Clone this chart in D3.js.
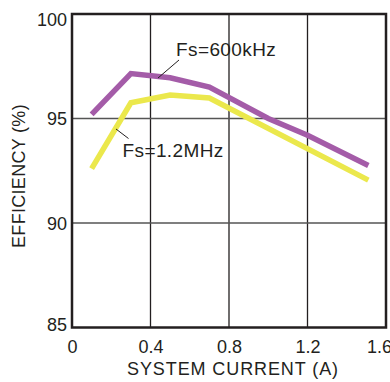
<!DOCTYPE html>
<html><head><meta charset="utf-8">
<script src="https://cdn.jsdelivr.net/npm/d3@7"></script>
<style>body{margin:0;background:#fff}svg{display:block}text{font-family:"Liberation Sans",Arial,sans-serif;fill:#231f20}</style>
</head><body>
<svg id="c" width="390" height="382"></svg>
<script>
const xTicks = [0, 0.4, 0.8, 1.2, 1.6];
const xTickLabels = ["0", "0.4", "0.8", "1.2", "1.6"];
const yTicks = [85, 90, 95, 100];
const yTickLabels = ["85", "90", "95", "100"];
const current600 = [0.1, 0.3, 0.5, 0.7, 1.0, 1.2, 1.51];
const eff600 = [95.2, 97.15, 96.95, 96.5, 95.0, 94.2, 92.75];
const current1200 = [0.1, 0.3, 0.5, 0.7, 1.51];
const eff1200 = [92.6, 95.75, 96.12, 95.98, 92.05];
const seriesNames = ["Fs=600kHz", "Fs=1.2MHz"];

const svg = d3.select("#c");
const x = d3.scaleLinear().domain([0, 1.6]).range([72, 386]);
const y = d3.scaleLinear().domain([85, 100]).range([327.5, 14]);

// grid
const g = svg.append("g");
g.selectAll(".vg").data(xTicks.slice(1, -1)).enter().append("line")
  .attr("x1", d => x(d)).attr("x2", d => x(d)).attr("y1", y(100)).attr("y2", y(85))
  .attr("stroke", "#231f20").attr("stroke-width", 1.3);
g.selectAll(".hg").data(yTicks.slice(1, -1)).enter().append("line")
  .attr("x1", x(0)).attr("x2", x(1.6)).attr("y1", d => y(d)).attr("y2", d => y(d))
  .attr("stroke", "#555").attr("stroke-width", 1.3);

// series
const line = d3.line().x(d => x(d[0])).y(d => y(d[1]));
svg.append("path").datum(d3.zip(current1200, eff1200)).attr("d", line)
  .attr("fill", "none").attr("stroke", "#ebe84c").attr("stroke-width", 5.5).attr("stroke-linejoin", "miter");
svg.append("path").datum(d3.zip(current600, eff600)).attr("d", line)
  .attr("fill", "none").attr("stroke", "#a45ca8").attr("stroke-width", 5.5).attr("stroke-linejoin", "miter");

// frame
svg.append("rect").attr("x", x(0)).attr("y", y(100)).attr("width", x(1.6) - x(0)).attr("height", y(85) - y(100))
  .attr("fill", "none").attr("stroke", "#231f20").attr("stroke-width", 2.5);

// axes
const xAxis = d3.axisBottom(x).tickValues(xTicks).tickFormat((d, i) => xTickLabels[i]).tickSize(0).tickPadding(0);
const xa = svg.append("g").attr("transform", "translate(0,353)").call(xAxis);
xa.select(".domain").remove();
xa.selectAll("text").attr("font-size", 18).attr("dy", 0).attr("fill", "#231f20")
  .attr("dx", d => d === 1.6 ? -7 : 0);

const yAxis = d3.axisLeft(y).tickValues(yTicks).tickFormat((d, i) => yTickLabels[i]).tickSize(0).tickPadding(0);
const ya = svg.append("g").attr("transform", "translate(67,0)").call(yAxis);
ya.select(".domain").remove();
ya.selectAll("text").attr("font-size", 18).attr("fill", "#231f20")
  .attr("dy", d => d === 100 ? "0.64em" : d === 85 ? "0.14em" : "0.36em");

// titles
svg.append("text").attr("x", 233).attr("y", 375).attr("text-anchor", "middle").attr("font-size", 18)
  .attr("letter-spacing", 0.9).text("SYSTEM CURRENT (A)");
svg.append("text").attr("transform", "translate(24.5,176) rotate(-90)").attr("text-anchor", "middle").attr("font-size", 18)
  .attr("letter-spacing", 0.3).text("EFFICIENCY (%)");

// annotations
svg.append("line").attr("x1", 179).attr("y1", 60).attr("x2", 158).attr("y2", 78).attr("stroke", "#231f20").attr("stroke-width", 1);
svg.append("text").attr("x", 176).attr("y", 56).attr("font-size", 19).attr("letter-spacing", 0.4).text(seriesNames[0]);
svg.append("line").attr("x1", 116).attr("y1", 129).attr("x2", 128.5).attr("y2", 138.5).attr("stroke", "#231f20").attr("stroke-width", 1);
svg.append("text").attr("x", 122.5).attr("y", 157).attr("font-size", 19).attr("letter-spacing", 0.4).text(seriesNames[1]);
</script>
</body></html>
